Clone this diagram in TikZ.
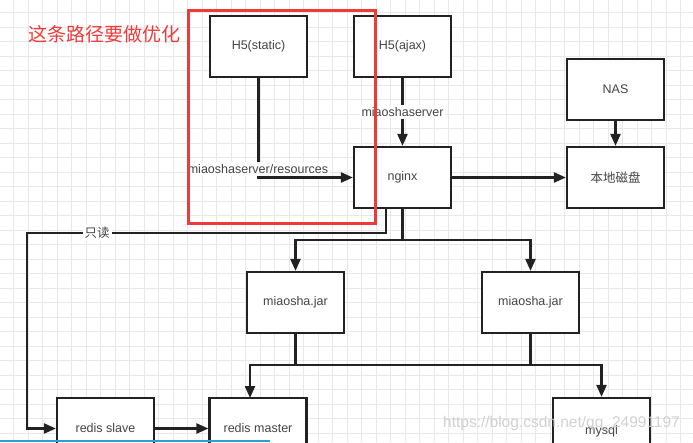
\documentclass[tikz,border=0pt]{standalone}
\usepackage{fontspec}
\setmainfont{Liberation Sans}
\newfontfamily\cjk{Noto Sans CJK SC}
\usetikzlibrary{arrows.meta,calc}
\definecolor{lineC}{HTML}{222222}
\definecolor{txtC}{HTML}{444444}
\definecolor{redC}{HTML}{F03A3A}
\definecolor{gridC}{HTML}{E8E8E8}
\definecolor{blueC}{HTML}{2A9FD8}
\tikzset{
  box/.style={draw=lineC, line width=2.2pt, fill=white, minimum width=97pt, minimum height=61pt, inner sep=0pt, text=txtC, font=\fontsize{12.5}{14}\selectfont},
  conn/.style={draw=lineC, line width=2.2pt},
  arr/.style={conn, -{Triangle[length=12pt,width=10pt]}},
  lbl/.style={fill=white, inner sep=2pt, text=txtC, font=\fontsize{12.5}{14}\selectfont},
  plaintxt/.style={text=txtC, font=\fontsize{12.5}{14}\selectfont},
}
\begin{document}
\begin{tikzpicture}[x=1pt,y=-1pt]
\useasboundingbox (0,0) rectangle (693,442);
\clip (0,0) rectangle (693,442);
\fill[white] (0,0) rectangle (693,442);
% grid
\foreach \i in {0,...,48} {
  \draw[gridC, line width=0.8pt] (\i*14.5-1,0) -- (\i*14.5-1,442);
}
\foreach \j in {0,...,31} {
  \draw[gridC, line width=0.8pt] (0,\j*14.5-2) -- (693,\j*14.5-2);
}
% boxes
\node[box] (h5s) at (258.5,46.5) {H5(static)};
\node[box] (h5a) at (402.5,46.5) {H5(ajax)};
\node[box] (nas) at (615.5,89.5) {NAS};
\node[box] (ngx) at (402.5,177.5) {nginx};
\node[box] (disk) at (615.5,177.5) {\cjk 本地磁盘};
\node[box] (jar1) at (295.5,302.5) {miaosha.jar};
\node[box] (jar2) at (530.5,302.5) {miaosha.jar};
\node[box] (slave) at (105.5,428.5) {};
\node[box] (master) at (258,428.5) {};
\node[box] (mysql) at (601.5,428.5) {};
\node[plaintxt] (slavet) at (105.5,428) {redis slave};
\node[plaintxt] (mastert) at (258,428) {redis master};
\node[plaintxt] (mysqlt) at (601.5,431) {mysql};
% connectors
\draw[arr] (h5s.south) |- (ngx.west);
\node[lbl] (l1) at (258,169) {miaoshaserver/resources};
\draw[arr] (h5a.south) -- (ngx.north) node[lbl, pos=0.5] (l2) {miaoshaserver};
\draw[arr] (nas.south) -- (disk.north);
\draw[arr] (ngx.east) -- (disk.west);
\coordinate (split) at (402.5,240);
\draw[conn] (ngx.south) -- (split);
\draw[arr] (split) -| (jar1.north);
\draw[arr] (split) -| (jar2.north);
\coordinate (ro) at (386,233);
\draw[arr] (ngx.south -| ro) -- (ro) -- (27,233) |- (slave.west);
\node[lbl, font=\cjk\fontsize{12.5}{14}\selectfont] (l3) at (97,233) {只读};
\coordinate (merge) at (295.5,365);
\coordinate (mtop) at (250,398);
\draw[conn] (jar1.south) -- (merge);
\draw[conn] (jar2.south) -- (jar2.south |- merge);
\draw[arr] (merge) -| (mtop);
\draw[arr] (merge) -| (mysql.north);
\draw[arr] (slave.east) -- (master.west);
% highlight
\draw[redC, line width=3pt] (188,10.5) rectangle (375,223);
\node[text=redC, font=\cjk\fontsize{19}{22}\selectfont, anchor=west] (note) at (25,34) {这条路径要做优化};
% watermark
\node[text=gray!40, opacity=0.9, font=\fontsize{15.5}{18}\selectfont] (wm) at (561.5,423) {https://blog.csdn.net/qq\_24991197};
\draw[blueC, line width=2pt] (0,441) -- (270,441);
\end{tikzpicture}
\end{document}
